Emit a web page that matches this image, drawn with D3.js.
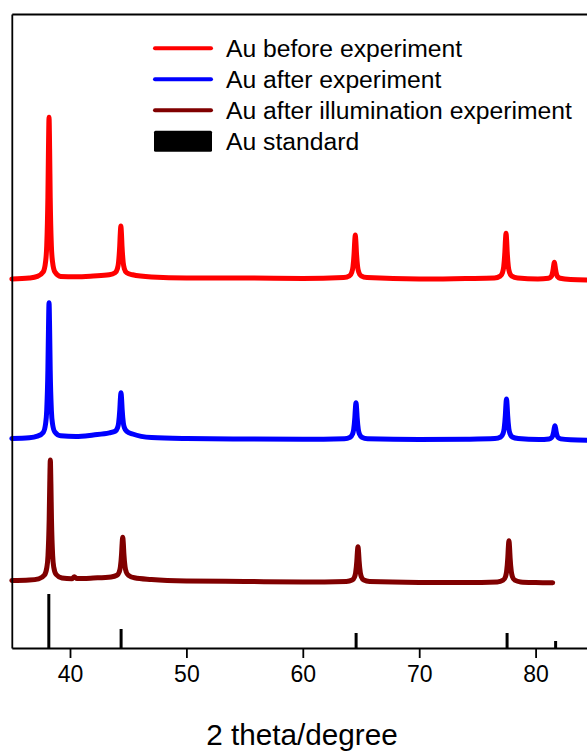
<!DOCTYPE html>
<html>
<head>
<meta charset="utf-8">
<script src="https://cdn.jsdelivr.net/npm/d3@7"></script>
<style>
  html, body { margin: 0; padding: 0; background: #fff; }
  svg { display: block; font-family: "Liberation Sans", Arial, sans-serif; }
</style>
</head>
<body>
<svg id="chart" width="587" height="753"></svg>
<script>
// ---- data (2θ in degrees, intensity in a.u., stacked with offsets) ----
const auBefore = [[35.0,3690],[36.5,3700],[37.2,3716],[37.7,3761],[37.9,3861],[38.0,4021],[38.1,4504],[38.15,4986],[38.2,5307],[38.25,4986],[38.3,4504],[38.4,4021],[38.5,3861],[38.7,3761],[39.2,3716],[40.5,3712],[42.0,3720],[43.37,3732],[43.87,3752],[44.07,3793],[44.17,3856],[44.27,4017],[44.32,4147],[44.37,4220],[44.42,4147],[44.47,4017],[44.57,3856],[44.67,3793],[44.87,3752],[45.37,3732],[47.0,3710],[50,3700],[55,3700],[60,3695],[63.51,3704],[64.01,3721],[64.21,3758],[64.31,3812],[64.41,3953],[64.46,4066],[64.51,4130],[64.56,4066],[64.61,3953],[64.71,3812],[64.81,3758],[65.01,3721],[65.51,3704],[70,3690],[74,3695],[76.46,3699],[76.96,3718],[77.16,3756],[77.26,3813],[77.36,3961],[77.41,4080],[77.46,4147],[77.51,4080],[77.56,3961],[77.66,3813],[77.76,3756],[77.96,3718],[78.46,3699],[80.2,3690],[81.11,3697],[81.31,3711],[81.41,3733],[81.51,3788],[81.56,3832],[81.61,3857],[81.66,3832],[81.71,3788],[81.81,3733],[81.91,3711],[82.11,3697],[83,3685],[85,3680]];

const auAfter = [[35.0,2095],[36.5,2102],[37.2,2118],[37.7,2156],[37.9,2240],[38.0,2375],[38.1,2779],[38.15,3183],[38.2,3453],[38.25,3183],[38.3,2779],[38.4,2375],[38.5,2240],[38.7,2160],[39.2,2122],[40.5,2115],[42.0,2130],[43.38,2151],[43.88,2167],[44.08,2201],[44.18,2253],[44.28,2386],[44.33,2493],[44.38,2553],[44.43,2493],[44.48,2386],[44.58,2253],[44.68,2201],[44.88,2167],[45.38,2140],[47.0,2105],[50,2095],[55,2090],[60,2088],[63.57,2093],[64.07,2108],[64.27,2138],[64.37,2185],[64.47,2303],[64.52,2399],[64.57,2453],[64.62,2399],[64.67,2303],[64.77,2185],[64.87,2138],[65.07,2108],[65.57,2093],[70,2085],[74,2088],[76.5,2094],[77.0,2110],[77.2,2143],[77.3,2195],[77.4,2325],[77.45,2431],[77.5,2490],[77.55,2431],[77.6,2325],[77.7,2195],[77.8,2143],[78.0,2110],[78.5,2094],[80.3,2085],[81.16,2091],[81.36,2102],[81.46,2120],[81.56,2166],[81.61,2202],[81.66,2223],[81.71,2202],[81.76,2166],[81.86,2120],[81.96,2102],[82.16,2091],[83,2082],[85,2078]];

const auIllum = [[35.0,675],[36.5,680],[37.31,692],[37.81,730],[38.01,805],[38.11,924],[38.21,1283],[38.26,1641],[38.31,1880],[38.36,1641],[38.41,1283],[38.51,924],[38.61,805],[38.81,735],[39.31,700],[40.15,692],[40.37,712],[40.6,694],[42.0,700],[43.53,711],[44.03,727],[44.23,760],[44.33,812],[44.43,942],[44.48,1048],[44.53,1107],[44.58,1048],[44.63,942],[44.73,812],[44.83,760],[45.03,727],[45.53,702],[47,685],[50,670],[55,665],[60,660],[63.74,665],[64.24,679],[64.44,709],[64.54,754],[64.64,868],[64.69,961],[64.74,1013],[64.79,961],[64.84,868],[64.94,754],[65.04,709],[65.24,679],[65.74,665],[70,656],[74,655],[76.71,661],[77.21,678],[77.41,713],[77.51,766],[77.61,902],[77.66,1011],[77.71,1073],[77.76,1011],[77.81,902],[77.91,766],[78.01,713],[78.21,678],[78.71,661],[80,655],[81.47,652]];

const stdPositions = [38.18, 44.39, 64.58, 77.55, 81.72];
const stdIntensity = [540, 190, 150, 150, 70];

const xTicks = [40, 50, 60, 70, 80];
const seriesNames = ["Au before experiment", "Au after experiment", "Au after illumination experiment", "Au standard"];
const seriesColors = ["#ff0000", "#0000ff", "#800000", "#000000"];
const xLabel = "2 theta/degree";

// ---- layout ----
const svg = d3.select("#chart");
const plotLeft = 11.8, plotTop = 14, plotBottom = 648;
const x = d3.scaleLinear().domain([35, 85]).range([plotLeft, plotLeft + 50 * 11.64]);
const y = d3.scaleLinear().domain([0, 6340]).range([plotBottom, plotTop]);

// curves
const line = d3.line().x(d => x(d[0])).y(d => y(d[1])).curve(d3.curveMonotoneX);
[auBefore, auAfter, auIllum].forEach((s, i) => {
  svg.append("path").datum(s).attr("d", line)
    .attr("fill", "none").attr("stroke", seriesColors[i])
    .attr("stroke-width", 5).attr("stroke-linejoin", "round").attr("stroke-linecap", "round");
});

// standard bars
svg.append("g").selectAll("line").data(stdPositions).join("line")
  .attr("x1", d => x(d)).attr("x2", d => x(d))
  .attr("y1", y(0)).attr("y2", (d, i) => y(stdIntensity[i]))
  .attr("stroke", "#000").attr("stroke-width", 3);

// axes / frame
const xAxis = svg.append("g").attr("transform", `translate(0,${plotBottom})`)
  .call(d3.axisBottom(x).tickValues(xTicks).tickSize(10).tickSizeOuter(0).tickPadding(8));
xAxis.select(".domain").attr("stroke-width", 1.8);
xAxis.selectAll(".tick line").attr("stroke-width", 1.8);
xAxis.selectAll(".tick text").attr("font-size", 23).attr("fill", "#000")
  .attr("font-family", "'Liberation Sans', Arial, sans-serif");

const yAxis = svg.append("g").attr("transform", `translate(${plotLeft},0)`)
  .call(d3.axisLeft(y).tickValues([]).tickSizeOuter(0));
yAxis.select(".domain").attr("stroke-width", 1.8);

const topAxis = svg.append("g").attr("transform", `translate(0,${plotTop})`)
  .call(d3.axisTop(x).tickValues([]).tickSizeOuter(0));
topAxis.select(".domain").attr("stroke-width", 1.8);

// axis title
svg.append("text").attr("x", 302).attr("y", 745).attr("text-anchor", "middle")
  .attr("font-size", 29.7).attr("fill", "#000").text(xLabel);

// legend
const lg = svg.append("g");
seriesNames.forEach((name, i) => {
  const cy = 48.3 + i * 31;
  if (i < 3) {
    lg.append("line").attr("x1", 155).attr("x2", 211).attr("y1", cy).attr("y2", cy)
      .attr("stroke", seriesColors[i]).attr("stroke-width", 4).attr("stroke-linecap", "round");
  } else {
    lg.append("rect").attr("x", 154).attr("y", cy - 10.5).attr("width", 58).attr("height", 21)
      .attr("rx", 1.5).attr("fill", seriesColors[i]);
  }
  lg.append("text").attr("x", 226).attr("y", cy + 8.8).attr("font-size", 24.7)
    .attr("fill", "#000").text(name);
});
</script>
</body>
</html>
